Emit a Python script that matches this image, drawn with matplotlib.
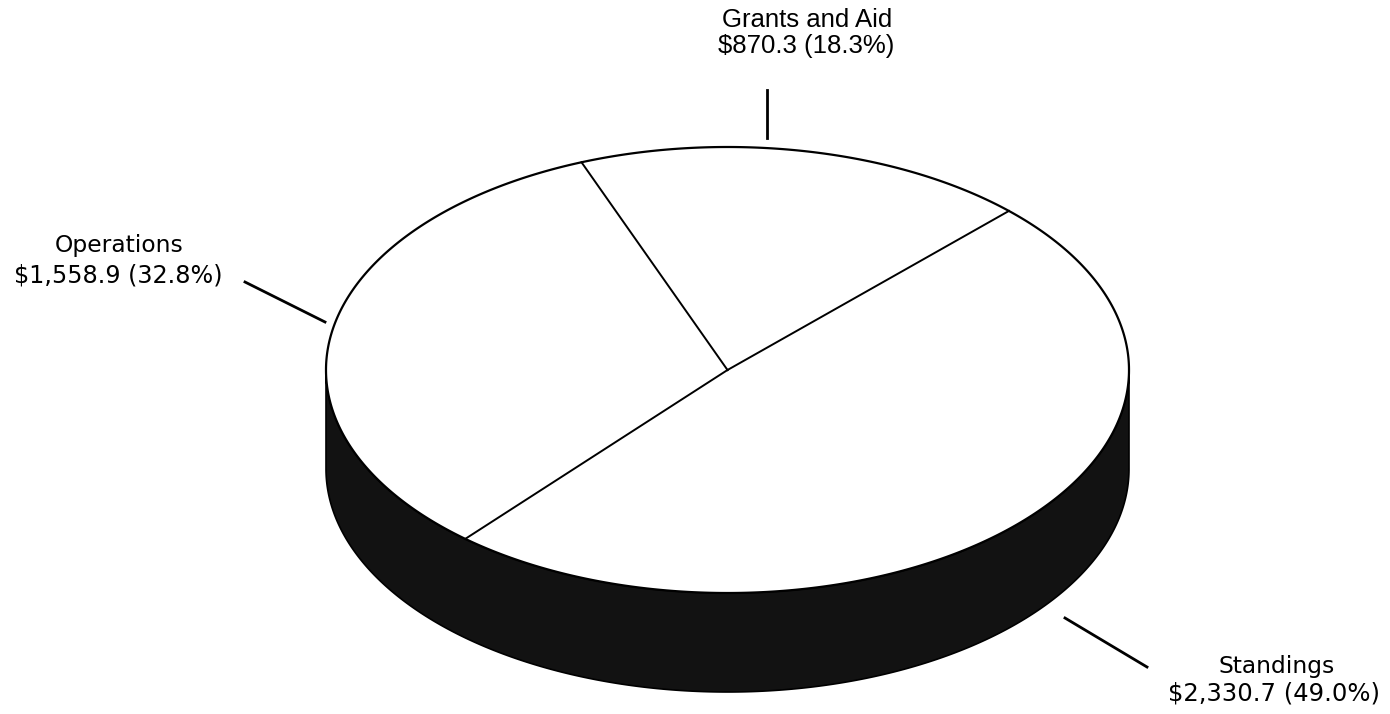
import numpy as np
import matplotlib
matplotlib.use("Agg")
import matplotlib.pyplot as plt
from matplotlib.patches import Polygon

# ---- data ----
categories = ["Grants and Aid", "Operations", "Standings"]
values = [870.3, 1558.9, 2330.7]
percents = [18.3, 32.8, 49.0]

# ---- geometry (pixel space) ----
W, H = 1390, 714
cx, cy = 727.5, 370.0
a, b = 401.5, 223.0
depth = 99.0
start_deg = 45.5

fig = plt.figure(figsize=(W / 100, H / 100), dpi=100)
ax = fig.add_axes([0, 0, 1, 1])
ax.set_xlim(0, W)
ax.set_ylim(H, 0)
ax.axis("off")


def pt(t_deg, dy=0.0):
    t = np.radians(t_deg)
    return cx + a * np.cos(t), cy - b * np.sin(t) + dy


# side (front half of cylinder)
ts = np.linspace(180, 360, 400)
top_x, top_y = pt(ts)
bot_x, bot_y = pt(ts[::-1], depth)
side = np.column_stack([np.concatenate([top_x, bot_x]), np.concatenate([top_y, bot_y])])
ax.add_patch(Polygon(side, closed=True, facecolor="#121212", edgecolor="#000000", lw=1.2, zorder=1))

# top ellipse
ta = np.linspace(0, 360, 720)
ex, ey = pt(ta)
ax.add_patch(Polygon(np.column_stack([ex, ey]), closed=True, facecolor="white",
                     edgecolor="black", lw=1.6, zorder=2))

# wedge boundaries
total = sum(values)
angles = [start_deg]
for v in values:
    angles.append(angles[-1] + 360.0 * v / total)
for ang in angles[:-1]:
    x, y = pt(ang)
    ax.plot([cx, x], [cy, y], color="black", lw=1.4, zorder=3)

# leader lines
leaders = [((767, 90), (767, 138)), ((245, 282), (325, 322)), ((1065, 618), (1147, 667))]
for (x0, y0), (x1, y1) in leaders:
    ax.plot([x0, x1], [y0, y1], color="black", lw=2.0, zorder=3)

# labels
lab2 = [f"${v:,.1f} ({p:.1f}%)" for v, p in zip(values, percents)]
ax.text(807.5, 27, categories[0], ha="center", va="baseline", fontsize=18.5,
        family="Liberation Sans", color="black")
ax.text(806.5, 53, lab2[0], ha="center", va="baseline", fontsize=18.5,
        family="Liberation Sans", color="black")
ax.text(119.5, 252, categories[1], ha="center", va="baseline", fontsize=16.8,
        family="DejaVu Sans", color="black")
ax.text(118, 283, lab2[1], ha="center", va="baseline", fontsize=17.2,
        family="DejaVu Sans", color="black")
ax.text(1277, 673, categories[2], ha="center", va="baseline", fontsize=16.8,
        family="DejaVu Sans", color="black")
ax.text(1274.5, 700, lab2[2], ha="center", va="baseline", fontsize=17.5,
        family="DejaVu Sans", color="black")

fig.savefig("out.png", dpi=100, facecolor="white")
